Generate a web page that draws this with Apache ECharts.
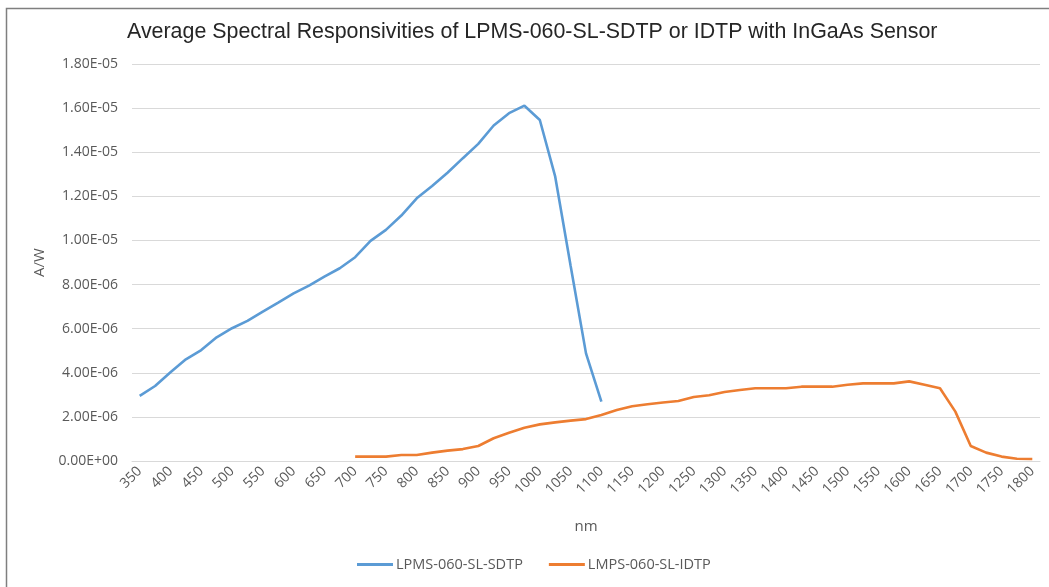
<!DOCTYPE html>
<html>
<head>
<meta charset="utf-8">
<script src="https://cdn.jsdelivr.net/npm/echarts@6/dist/echarts.min.js"></script>
<style>
html,body{margin:0;padding:0;background:#fff;}
#chart{width:1049px;height:587px;}
</style>
</head>
<body>
<div id="chart"></div>
<script>
var categories = ['350','375','400','425','450','475','500','525','550','575','600','625','650','675','700','725','750','775','800','825','850','875','900','925','950','975','1000','1025','1050','1075','1100','1125','1150','1175','1200','1225','1250','1275','1300','1325','1350','1375','1400','1425','1450','1475','1500','1525','1550','1575','1600','1625','1650','1675','1700','1725','1750','1775','1800'];

var sdtp = [2.95e-6,3.40e-6,4.02e-6,4.61e-6,5.03e-6,5.61e-6,6.02e-6,6.35e-6,6.77e-6,7.18e-6,7.60e-6,7.95e-6,8.36e-6,8.74e-6,9.24e-6,9.98e-6,1.048e-5,1.113e-5,1.191e-5,1.247e-5,1.307e-5,1.373e-5,1.438e-5,1.521e-5,1.577e-5,1.611e-5,1.546e-5,1.289e-5,8.85e-6,4.88e-6,2.69e-6,
null,null,null,null,null,null,null,null,null,null,null,null,null,null,null,null,null,null,null,null,null,null,null,null,null,null,null,null];

var idtp = [null,null,null,null,null,null,null,null,null,null,null,null,null,null,
2.0e-7,2.0e-7,2.0e-7,2.7e-7,2.7e-7,3.8e-7,4.7e-7,5.4e-7,6.8e-7,1.03e-6,1.28e-6,1.51e-6,1.66e-6,1.75e-6,1.83e-6,1.90e-6,2.09e-6,2.31e-6,2.48e-6,2.57e-6,2.65e-6,2.72e-6,2.90e-6,2.98e-6,3.13e-6,3.22e-6,3.30e-6,3.30e-6,3.30e-6,3.37e-6,3.37e-6,3.37e-6,3.46e-6,3.52e-6,3.52e-6,3.52e-6,3.61e-6,3.46e-6,3.30e-6,2.24e-6,6.8e-7,3.8e-7,2.0e-7,1.0e-7,9.0e-8];

var yTicks = {min: 0, max: 1.8e-5, interval: 2e-6};

function fmtExp(v){
  var s = Number(v).toExponential(2);
  var parts = s.split('e');
  var exp = parseInt(parts[1],10);
  var sign = exp < 0 ? '-' : '+';
  var a = Math.abs(exp);
  return parts[0] + 'E' + sign + (a < 10 ? '0' + a : '' + a);
}

var chart = echarts.init(document.getElementById('chart'), null, {renderer:'canvas'});
var font = '"Liberation Sans", Arial, sans-serif';
var lblFont = '"Open Sans", "Noto Sans", sans-serif';
chart.setOption({
  backgroundColor: '#ffffff',
  animation: false,
  title: {
    text: 'Average Spectral Responsivities of LPMS-060-SL-SDTP or IDTP with InGaAs Sensor',
    left: 122,
    top: 17,
    textStyle: {fontFamily: font, fontSize: 21.4, fontWeight: 'normal', color: '#262626'}
  },
  graphic: [{
    type: 'rect',
    shape: {x: 6.5, y: 8.5, width: 1100, height: 700},
    style: {fill: 'none', stroke: '#7f7f7f', lineWidth: 1.5},
    silent: true
  }],
  legend: {
    bottom: 10,
    left: 352,
    itemGap: 26,
    itemWidth: 36,
    itemHeight: 3,
    icon: 'rect',
    textStyle: {fontFamily: lblFont, fontSize: 14.5, color: '#595959', padding: [0,0,0,-2]},
    data: ['LPMS-060-SL-SDTP', 'LMPS-060-SL-IDTP']
  },
  grid: {left: 132, right: 9, top: 64, bottom: 126, containLabel: false},
  xAxis: {
    type: 'category',
    data: categories,
    boundaryGap: true,
    name: 'nm',
    nameLocation: 'middle',
    nameGap: 58,
    nameTextStyle: {fontFamily: lblFont, fontSize: 15, color: '#595959'},
    axisLine: {show: true, lineStyle: {color: '#d9d9d9', width: 1}},
    axisTick: {show: false},
    axisLabel: {interval: 1, rotate: 45, margin: 8, fontFamily: lblFont, fontSize: 14, color: '#595959'}
  },
  yAxis: {
    type: 'value',
    min: yTicks.min,
    max: yTicks.max,
    interval: yTicks.interval,
    name: 'A/W',
    nameLocation: 'middle',
    nameGap: 84,
    nameRotate: 90,
    nameTextStyle: {fontFamily: lblFont, fontSize: 15, color: '#595959'},
    axisLine: {show: false},
    axisTick: {show: false},
    axisLabel: {margin: 14, fontFamily: lblFont, fontSize: 14, color: '#595959', formatter: fmtExp},
    splitLine: {lineStyle: {color: '#d9d9d9', width: 1}}
  },
  series: [
    {
      name: 'LPMS-060-SL-SDTP',
      type: 'line',
      data: sdtp,
      showSymbol: false,
      symbol: 'none',
      connectNulls: false,
      lineStyle: {color: '#5B9BD5', width: 2.6},
      itemStyle: {color: '#5B9BD5'}
    },
    {
      name: 'LMPS-060-SL-IDTP',
      type: 'line',
      data: idtp,
      showSymbol: false,
      symbol: 'none',
      connectNulls: false,
      lineStyle: {color: '#ED7D31', width: 2.6},
      itemStyle: {color: '#ED7D31'}
    }
  ]
});
</script>
</body>
</html>
